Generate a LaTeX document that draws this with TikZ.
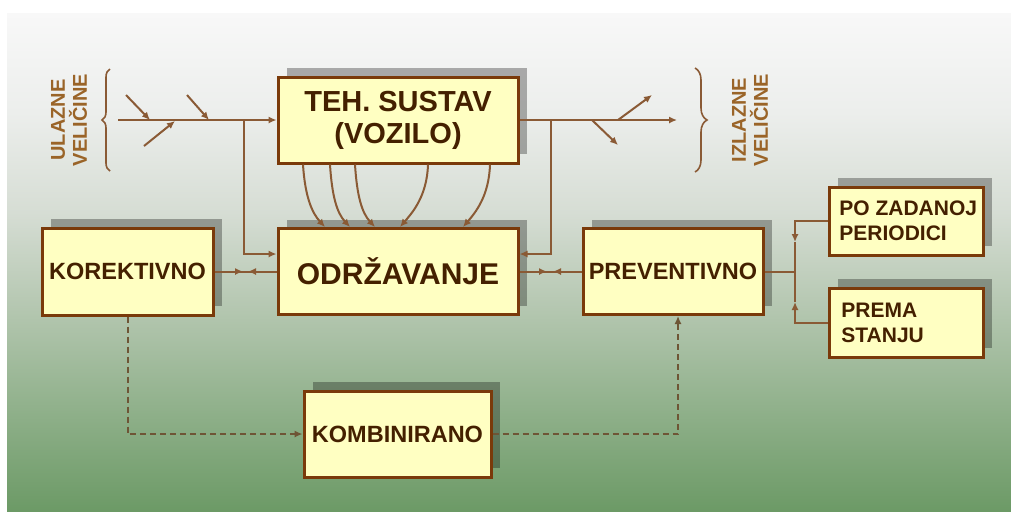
\documentclass[tikz,border=0pt]{standalone}
\usepackage{fontspec}
\setmainfont{Liberation Sans}
\usetikzlibrary{arrows.meta,shadows,decorations.pathreplacing}
\definecolor{boxfill}{HTML}{FFFFC2}
\definecolor{boxdraw}{HTML}{7A3A0A}
\definecolor{boxtext}{HTML}{442000}
\definecolor{lnbrown}{HTML}{8A5A35}
\definecolor{lblbrown}{HTML}{9A6428}
\definecolor{dashcol}{HTML}{6E5535}
\definecolor{bg0}{HTML}{6C9A66}
\definecolor{bg1}{HTML}{8FB08A}
\definecolor{bg2}{HTML}{B3C6AF}
\definecolor{bg3}{HTML}{D6DDD4}
\definecolor{bg4}{HTML}{ECEEEC}
\definecolor{bg5}{HTML}{F8F8F8}
\pgfdeclareverticalshading{bgshade}{100bp}{color(0bp)=(bg0); color(25bp)=(bg0); color(35bp)=(bg1); color(45bp)=(bg2); color(55bp)=(bg3); color(65bp)=(bg4); color(75bp)=(bg5); color(100bp)=(bg5)}
\begin{document}
\begin{tikzpicture}[x=0.5pt,y=-0.5pt,
  >={Latex[length=4pt,width=3.6pt]},
  box/.style={draw=boxdraw, line width=1.5pt, fill=boxfill, inner sep=0pt,
    text=boxtext, align=center,
    general shadow={fill=black, fill opacity=0.3, shadow xshift=4.5pt, shadow yshift=4.5pt}},
  boxtxt/.style={text=boxtext, align=left, inner sep=0pt},
  bigfont/.style={font=\bfseries\fontsize{14.5pt}{16pt}\selectfont},
  midfont/.style={font=\bfseries\fontsize{11.75pt}{14pt}\selectfont},
  smallfont/.style={font=\bfseries\fontsize{10.5pt}{12.5pt}\selectfont},
  lbl/.style={text=lblbrown, align=center, inner sep=0pt, font=\bfseries\fontsize{10pt}{11pt}\selectfont},
  conn/.style={draw=lnbrown, line width=1pt},
  dashline/.style={draw=dashcol, line width=1pt, dash pattern=on 3pt off 2pt},
  bracestyle/.style={draw=lnbrown, line width=0.8pt, decorate}
]
\useasboundingbox (0,0) rectangle (1011,511);
\fill[white] (0,0) rectangle (1011,511);
\shade[shading=bgshade] (7,13) rectangle (1011,511);

% boxes
\node[box, bigfont, minimum width=120pt, minimum height=43pt] (teh) at (398,120) {TEH. SUSTAV\\(VOZILO)};
\node[box, font=\bfseries\fontsize{15pt}{18pt}\selectfont, minimum width=120pt, minimum height=43pt] (odr) at (398,271.5) {ODRŽAVANJE};
\node[box, midfont, minimum width=85.5pt, minimum height=43.5pt] (kor) at (127.5,271.5) {KOREKTIVNO};
\node[box, midfont, minimum width=90pt, minimum height=43pt] (prev) at (673,271.5) {PREVENTIVNO};
\node[box, minimum width=77pt, minimum height=34pt] (po) at (906,221) {};
\node[boxtxt, smallfont, anchor=west] (potx) at (839,221) {PO ZADANOJ\\PERIODICI};
\node[box, minimum width=77pt, minimum height=34.5pt] (prema) at (906,322.5) {};
\node[boxtxt, smallfont, anchor=west] (prtx) at (841,322.5) {PREMA\\STANJU};
\node[box, midfont, minimum width=93.5pt, minimum height=43pt] (komb) at (397.5,434) {KOMBINIRANO};

% labels
\node[lbl, rotate=90] (ulaz) at (69,120) {ULAZNE\\VELIČINE};
\node[lbl, rotate=90] (izlaz) at (750,120) {IZLAZNE\\VELIČINE};

% braces
\coordinate (lbb) at (110,171);
\coordinate (lbt) at (110,69);
\draw[bracestyle, decoration={brace, amplitude=4pt}] (lbb) -- (lbt);
\coordinate (rbt) at (695,68);
\coordinate (rbb) at (695,172);
\draw[bracestyle, decoration={brace, amplitude=6pt}] (rbt) -- (rbb);

% inputs
\coordinate (in0) at (118,120);
\coordinate (inb) at (244,120);
\draw[conn,->] (in0) -- (teh.west);
\draw[conn,->] (inb) |- ([yshift=8.75pt]odr.west);
\coordinate (a1s) at (126,95);  \coordinate (a1e) at (150,120);
\coordinate (a2s) at (187,95);  \coordinate (a2e) at (209,120);
\coordinate (a3s) at (144,146); \coordinate (a3e) at (175,121);
\draw[conn,->] (a1s) -- (a1e);
\draw[conn,->] (a2s) -- (a2e);
\draw[conn,->] (a3s) -- (a3e);

% outputs
\coordinate (out0) at (677,120);
\coordinate (outb) at (551,120);
\draw[conn,->] (teh.east) -- (out0);
\draw[conn,->] (outb) |- ([yshift=8.75pt]odr.east);
\coordinate (o1s) at (618,120); \coordinate (o1e) at (652,95);
\coordinate (o2s) at (592,120); \coordinate (o2e) at (618,145);
\draw[conn,->] (o1s) -- (o1e);
\draw[conn,->] (o2s) -- (o2e);

% curved arrows teh -> odr
\draw[conn,->] ([xshift=-47.5pt]teh.south) .. controls +(2,32) and +(-13,-14) .. ([xshift=-36.5pt]odr.north);
\draw[conn,->] ([xshift=-34pt]teh.south) .. controls +(2,32) and +(-13,-14) .. ([xshift=-24pt]odr.north);
\draw[conn,->] ([xshift=-21.5pt]teh.south) .. controls +(2,32) and +(-13,-14) .. ([xshift=-11.5pt]odr.north);
\draw[conn,->] ([xshift=15pt]teh.south) .. controls +(-1,32) and +(12,-14) .. ([xshift=1pt]odr.north);
\draw[conn,->] ([xshift=46pt]teh.south) .. controls +(-1,32) and +(12,-14) .. ([xshift=32.5pt]odr.north);

% kor <-> odr
\coordinate (km1) at (243,271.5);
\coordinate (km2) at (248,271.5);
\draw[conn] (kor.east) -- (odr.west);
\draw[conn,->] (kor.east) -- (km1);
\draw[conn,->] (odr.west) -- (km2);

% odr <-> prev
\coordinate (pm1) at (547,271.5);
\coordinate (pm2) at (553,271.5);
\draw[conn] (odr.east) -- (prev.west);
\draw[conn,->] (odr.east) -- (pm1);
\draw[conn,->] (prev.west) -- (pm2);

% prev -> po / prema
\coordinate (jn) at (795,271.5);
\coordinate (pomid) at (795,242);
\coordinate (prmid) at (795,302);
\draw[conn] (prev.east) -- (jn);
\draw[conn,->] (po.west) -| (pomid);
\draw[conn] (pomid) -- (jn);
\draw[conn,->] (prema.west) -| (prmid);
\draw[conn] (prmid) -- (jn);

% dashed
\draw[dashline,->] (kor.south) |- (komb.west);
\draw[dashline,->] (komb.east) -| ([xshift=2.5pt]prev.south);
\end{tikzpicture}
\end{document}
